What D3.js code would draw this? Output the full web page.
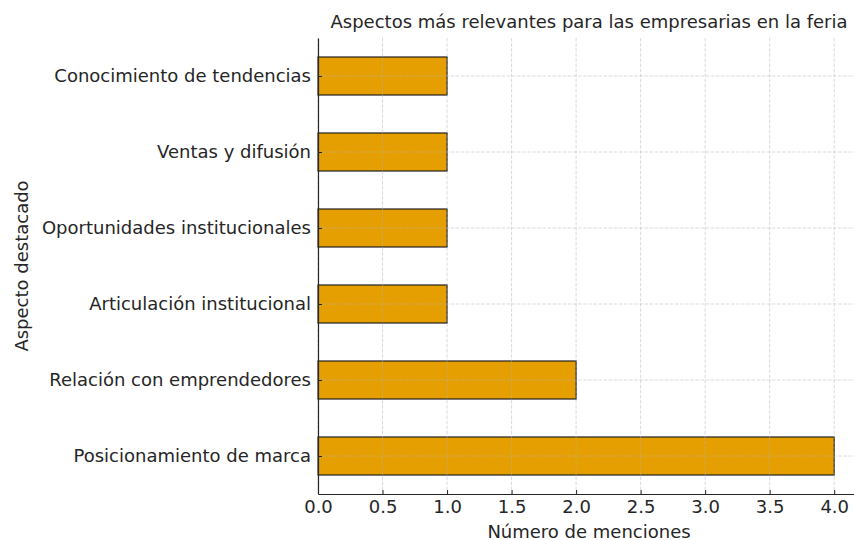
<!DOCTYPE html>
<html>
<head>
<meta charset="utf-8">
<script src="https://cdn.jsdelivr.net/npm/d3@7"></script>
<style>
  html, body { margin: 0; padding: 0; background: #fff; overflow: hidden; }
  svg text { font-family: "DejaVu Sans", sans-serif; fill: #262626; }
</style>
</head>
<body>
<div id="chart"></div>
<script>
// Data (bottom to top, as drawn)
const aspects = [
  "Posicionamiento de marca",
  "Relación con emprendedores",
  "Articulación institucional",
  "Oportunidades institucionales",
  "Ventas y difusión",
  "Conocimiento de tendencias"
];
const menciones = [4, 2, 1, 1, 1, 1];
const xTicks = [0, 0.5, 1, 1.5, 2, 2.5, 3, 3.5, 4];

const width = 854, height = 540;
const margin = { top: 38, right: -6, bottom: 46, left: 318 };
const innerWidth = width - margin.left - margin.right;
const innerHeight = height - margin.top - margin.bottom;

const svg = d3.select("#chart").append("svg")
  .attr("width", width)
  .attr("height", height);

const g = svg.append("g")
  .attr("transform", `translate(${margin.left},${margin.top})`);

const x = d3.scaleLinear().domain([0, 4.2]).range([0, innerWidth]);
// category index -0.5..5.5 like matplotlib barh
const y = d3.scaleLinear().domain([-0.5, aspects.length - 0.5]).range([innerHeight, 0]);
const barH = y(0) - y(0.5);

// bars
g.selectAll("rect.bar")
  .data(menciones)
  .enter()
  .append("rect")
  .attr("class", "bar")
  .attr("x", x(0))
  .attr("y", (d, i) => y(i + 0.25))
  .attr("width", (d) => x(d) - x(0))
  .attr("height", barH)
  .attr("fill", "#E69F00")
  .attr("stroke", "#222")
  .attr("stroke-width", 1.2);

// grid (drawn above bars like matplotlib)
g.selectAll("line.vgrid")
  .data(xTicks)
  .enter()
  .append("line")
  .attr("x1", (d) => x(d)).attr("x2", (d) => x(d))
  .attr("y1", 0).attr("y2", innerHeight)
  .attr("stroke", "#b0b0b0")
  .attr("stroke-opacity", 0.6)
  .attr("stroke-dasharray", "3.5 1.6")
  .attr("stroke-width", 0.8);

g.selectAll("line.hgrid")
  .data(aspects)
  .enter()
  .append("line")
  .attr("x1", 0).attr("x2", innerWidth)
  .attr("y1", (d, i) => y(i)).attr("y2", (d, i) => y(i))
  .attr("stroke", "#b0b0b0")
  .attr("stroke-opacity", 0.6)
  .attr("stroke-dasharray", "3.5 1.6")
  .attr("stroke-width", 0.8);

// axes (ticks inward)
const xAxis = d3.axisBottom(x).tickValues(xTicks).tickFormat(d3.format(".1f"))
  .tickSizeInner(-4).tickSizeOuter(0).tickPadding(6);
const yAxis = d3.axisLeft(y).tickValues(d3.range(aspects.length))
  .tickFormat((i) => aspects[i]).tickSizeInner(-4).tickSizeOuter(0).tickPadding(7);

const gx = g.append("g")
  .attr("transform", `translate(0,${innerHeight})`)
  .call(xAxis);
const gy = g.append("g").call(yAxis);

[gx, gy].forEach((ax) => {
  ax.select(".domain").attr("stroke", "#262626").attr("stroke-width", 1.2);
  ax.selectAll(".tick line").attr("stroke", "#262626").attr("stroke-width", 1);
  ax.selectAll(".tick text").attr("font-size", 18).attr("fill", "#262626");
});
gx.selectAll(".tick text").attr("dy", "0.71em");

// axis labels
g.append("text")
  .attr("x", innerWidth / 2)
  .attr("y", innerHeight + 44)
  .attr("text-anchor", "middle")
  .attr("font-size", 18)
  .text("Número de menciones");

g.append("text")
  .attr("transform", "rotate(-90)")
  .attr("x", -innerHeight / 2)
  .attr("y", -290)
  .attr("text-anchor", "middle")
  .attr("font-size", 18)
  .text("Aspecto destacado");

// title
g.append("text")
  .attr("x", innerWidth / 2)
  .attr("y", -10)
  .attr("text-anchor", "middle")
  .attr("font-size", 18)
  .attr("fill", "#333")
  .text("Aspectos más relevantes para las empresarias en la feria");
</script>
</body>
</html>
